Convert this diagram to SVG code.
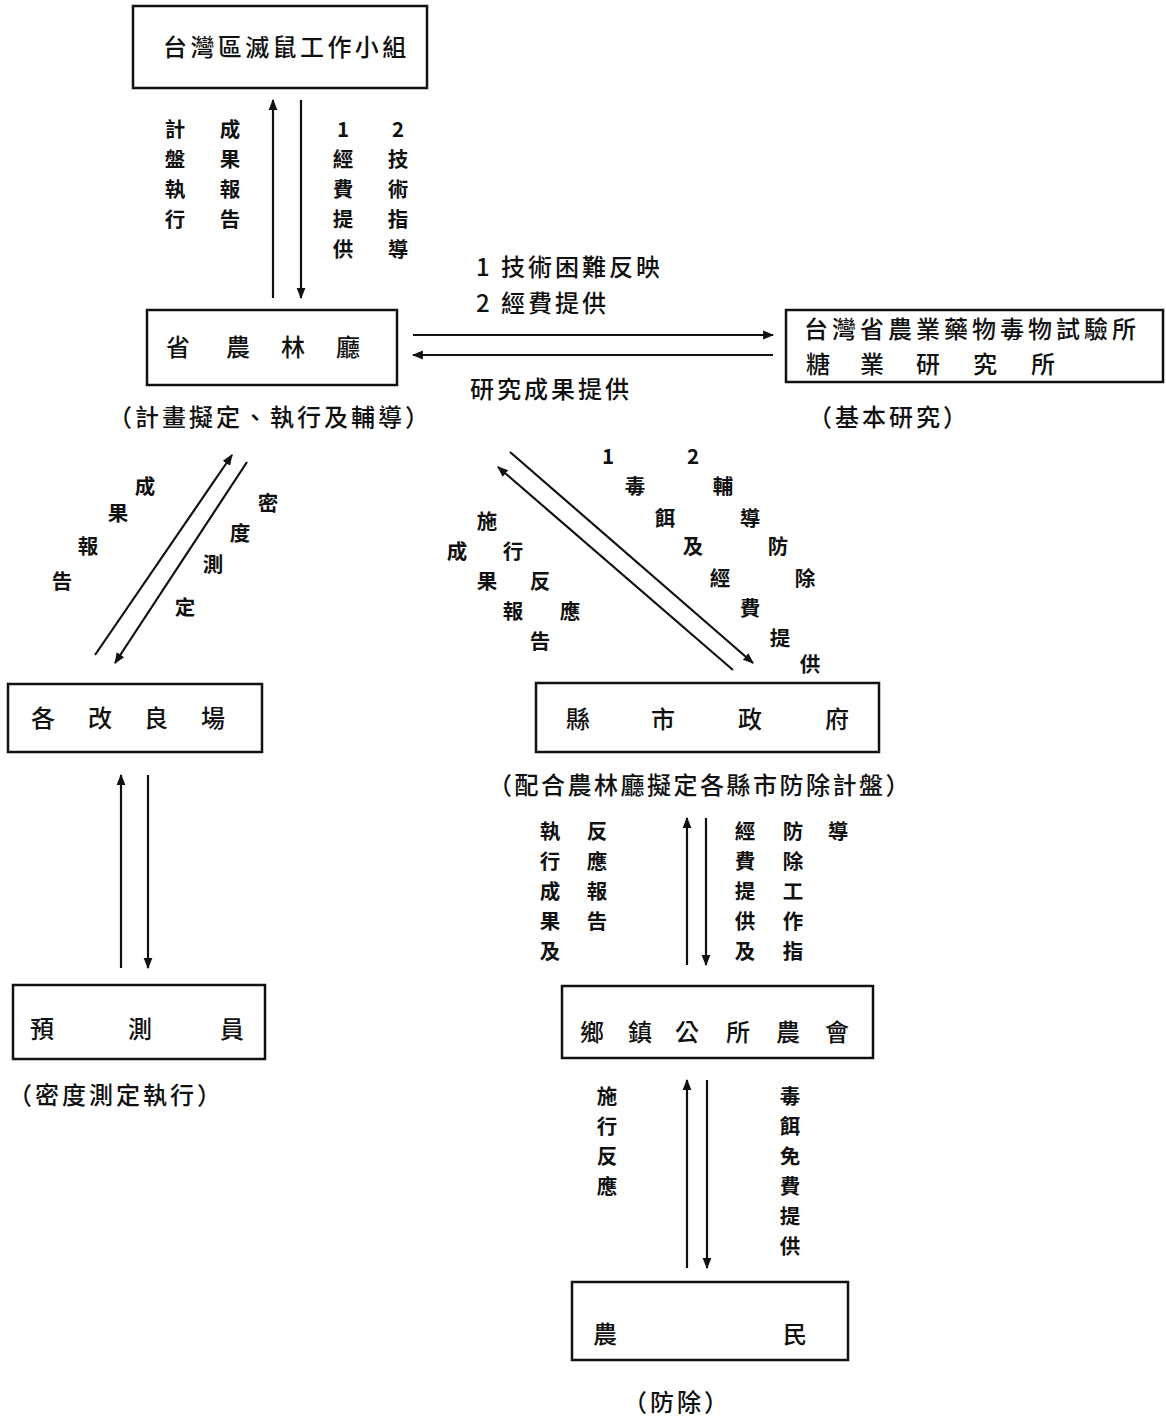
<svg xmlns="http://www.w3.org/2000/svg" width="1166" height="1419" viewBox="0 0 1166 1419">
<style>
text{font-family:"Noto Sans CJK TC","Noto Sans CJK SC",sans-serif;fill:#111;font-weight:500;}
.n{font-size:24px;text-anchor:middle;dominant-baseline:central;}
.l{font-size:20.5px;text-anchor:middle;dominant-baseline:central;font-weight:700;}
.c{font-size:24px;dominant-baseline:central;letter-spacing:3px;}
.box{fill:#fff;stroke:#111;stroke-width:2.5;}
.ln{stroke:#111;stroke-width:2.2;fill:none;}
</style>
<defs>
<marker id="ah" viewBox="0 0 10 10" refX="9" refY="5" markerWidth="5" markerHeight="5" orient="auto-start-reverse" markerUnits="strokeWidth">
<path d="M0,1 L10,5 L0,9 z" fill="#111"/>
</marker>
</defs>
<rect width="1166" height="1419" fill="#fff"/>

<g id="connectors">
<line class="ln" x1="273" y1="298" x2="273" y2="100" marker-end="url(#ah)"/>
<line class="ln" x1="301" y1="100" x2="301" y2="298" marker-end="url(#ah)"/>
<line class="ln" x1="413" y1="335" x2="773" y2="335" marker-end="url(#ah)"/>
<line class="ln" x1="773" y1="355" x2="413" y2="355" marker-end="url(#ah)"/>
<line class="ln" x1="95" y1="655" x2="232" y2="455" marker-end="url(#ah)"/>
<line class="ln" x1="247" y1="462" x2="115" y2="663" marker-end="url(#ah)"/>
<line class="ln" x1="510" y1="452" x2="753" y2="663" marker-end="url(#ah)"/>
<line class="ln" x1="733" y1="670" x2="498" y2="467" marker-end="url(#ah)"/>
<line class="ln" x1="121" y1="968" x2="121" y2="775" marker-end="url(#ah)"/>
<line class="ln" x1="148" y1="775" x2="148" y2="968" marker-end="url(#ah)"/>
<line class="ln" x1="687" y1="965" x2="687" y2="818" marker-end="url(#ah)"/>
<line class="ln" x1="706" y1="818" x2="706" y2="965" marker-end="url(#ah)"/>
<line class="ln" x1="687" y1="1268" x2="687" y2="1080" marker-end="url(#ah)"/>
<line class="ln" x1="707" y1="1080" x2="707" y2="1268" marker-end="url(#ah)"/>
</g>

<g id="conn-labels">
<text class="l" x="175" y="128">計</text><text class="l" x="175" y="158">盤</text><text class="l" x="175" y="188">執</text><text class="l" x="175" y="218">行</text>
<text class="l" x="230" y="128">成</text><text class="l" x="230" y="158">果</text><text class="l" x="230" y="188">報</text><text class="l" x="230" y="218">告</text>
<text class="l" x="343" y="128">1</text><text class="l" x="343" y="158">經</text><text class="l" x="343" y="188">費</text><text class="l" x="343" y="218">提</text><text class="l" x="343" y="248">供</text>
<text class="l" x="398" y="128">2</text><text class="l" x="398" y="158">技</text><text class="l" x="398" y="188">術</text><text class="l" x="398" y="218">指</text><text class="l" x="398" y="248">導</text>

<text class="c" x="476" y="265">1 技術困難反映</text>
<text class="c" x="476" y="301">2 經費提供</text>
<text class="c" x="470" y="387">研究成果提供</text>

<text class="l" x="145" y="485">成</text><text class="l" x="118" y="512">果</text><text class="l" x="88" y="545">報</text><text class="l" x="62" y="580">告</text>
<text class="l" x="268" y="502">密</text><text class="l" x="240" y="532">度</text><text class="l" x="213" y="563">測</text><text class="l" x="185" y="606">定</text>

<text class="l" x="608" y="455">1</text><text class="l" x="693" y="455">2</text>
<text class="l" x="635" y="485">毒</text><text class="l" x="665" y="517">餌</text><text class="l" x="693" y="545">及</text><text class="l" x="720" y="577">經</text><text class="l" x="750" y="607">費</text><text class="l" x="780" y="637">提</text><text class="l" x="810" y="663">供</text>
<text class="l" x="723" y="485">輔</text><text class="l" x="750" y="517">導</text><text class="l" x="778" y="545">防</text><text class="l" x="805" y="577">除</text>
<text class="l" x="487" y="520">施</text><text class="l" x="457" y="550">成</text><text class="l" x="513" y="550">行</text><text class="l" x="487" y="580">果</text><text class="l" x="540" y="580">反</text><text class="l" x="513" y="610">報</text><text class="l" x="570" y="610">應</text><text class="l" x="540" y="640">告</text>

<text class="l" x="550" y="830">執</text><text class="l" x="550" y="860">行</text><text class="l" x="550" y="890">成</text><text class="l" x="550" y="920">果</text><text class="l" x="550" y="950">及</text>
<text class="l" x="597" y="830">反</text><text class="l" x="597" y="860">應</text><text class="l" x="597" y="890">報</text><text class="l" x="597" y="920">告</text>
<text class="l" x="745" y="830">經</text><text class="l" x="745" y="860">費</text><text class="l" x="745" y="890">提</text><text class="l" x="745" y="920">供</text><text class="l" x="745" y="950">及</text>
<text class="l" x="793" y="830">防</text><text class="l" x="793" y="860">除</text><text class="l" x="793" y="890">工</text><text class="l" x="793" y="920">作</text><text class="l" x="793" y="950">指</text>
<text class="l" x="838" y="830">導</text>

<text class="l" x="607" y="1095">施</text><text class="l" x="607" y="1125">行</text><text class="l" x="607" y="1155">反</text><text class="l" x="607" y="1185">應</text>
<text class="l" x="790" y="1095">毒</text><text class="l" x="790" y="1125">餌</text><text class="l" x="790" y="1155">免</text><text class="l" x="790" y="1185">費</text><text class="l" x="790" y="1215">提</text><text class="l" x="790" y="1245">供</text>
</g>

<g id="node-taiwan">
<rect class="box" x="133" y="6" width="294" height="82"/>
<text class="c" x="163" y="45" style="letter-spacing:3.4px">台灣區滅鼠工作小組</text>
</g>

<g id="node-province">
<rect class="box" x="147" y="310" width="250" height="75"/>
<text class="n" x="178" y="345">省</text><text class="n" x="238" y="345">農</text><text class="n" x="293" y="345">林</text><text class="n" x="348" y="345">廳</text>
<text class="c" x="108" y="415">（計畫擬定、執行及輔導）</text>
</g>

<g id="node-institute">
<rect class="box" x="786" y="310" width="377" height="72"/>
<text class="c" x="804" y="327" style="letter-spacing:4px">台灣省農業藥物毒物試驗所</text>
<text class="n" x="818" y="362">糖</text><text class="n" x="872" y="362">業</text><text class="n" x="928" y="362">研</text><text class="n" x="985" y="362">究</text><text class="n" x="1043" y="362">所</text>
<text class="c" x="808" y="415">（基本研究）</text>
</g>

<g id="node-station">
<rect class="box" x="8" y="684" width="254" height="68"/>
<text class="n" x="43" y="716">各</text><text class="n" x="100" y="716">改</text><text class="n" x="156" y="716">良</text><text class="n" x="213" y="716">場</text>
</g>

<g id="node-county">
<rect class="box" x="536" y="683" width="343" height="69"/>
<text class="n" x="578" y="717">縣</text><text class="n" x="663" y="717">市</text><text class="n" x="750" y="717">政</text><text class="n" x="837" y="717">府</text>
<text class="c" x="488" y="783" style="letter-spacing:2.5px">（配合農林廳擬定各縣市防除計盤）</text>
</g>

<g id="node-forecaster">
<rect class="box" x="13" y="985" width="252" height="74"/>
<text class="n" x="42" y="1027">預</text><text class="n" x="140" y="1027">測</text><text class="n" x="232" y="1027">員</text>
<text class="c" x="8" y="1093">（密度測定執行）</text>
</g>

<g id="node-township">
<rect class="box" x="562" y="986" width="311" height="72"/>
<text class="n" x="592" y="1030">鄉</text><text class="n" x="640" y="1030">鎮</text><text class="n" x="687" y="1030">公</text><text class="n" x="738" y="1030">所</text><text class="n" x="788" y="1030">農</text><text class="n" x="837" y="1030">會</text>
</g>

<g id="node-farmer">
<rect class="box" x="572" y="1282" width="276" height="78"/>
<text class="n" x="605" y="1332">農</text><text class="n" x="795" y="1332">民</text>
<text class="c" x="623" y="1400">（防除）</text>
</g>
</svg>
